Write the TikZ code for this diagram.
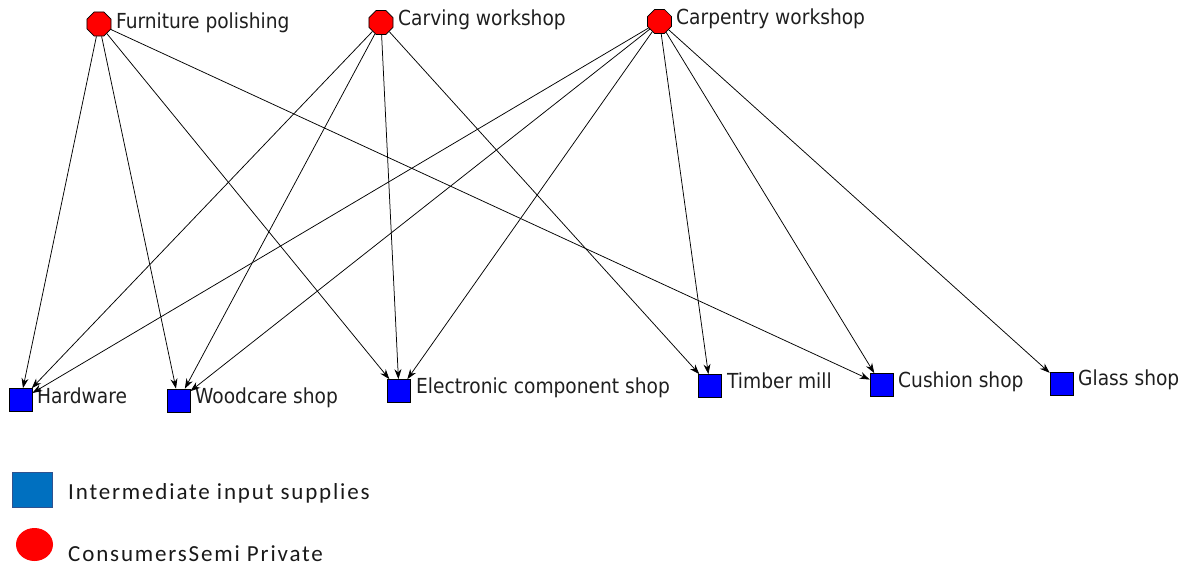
\documentclass[tikz,border=0pt]{standalone}
\usepackage{fontspec}
\setmainfont{DejaVu Sans Condensed}
\newfontfamily\legfont[LetterSpace=8]{Carlito}
\usetikzlibrary{shapes.geometric,arrows.meta}
\begin{document}
\begin{tikzpicture}[x=1pt,y=-1pt,
  cons/.style={regular polygon,regular polygon sides=8,minimum size=26pt,inner sep=0pt,fill=red,draw=black,line width=0.7pt},
  supp/.style={rectangle,minimum size=23pt,inner sep=0pt,fill=blue,draw=black,line width=0.7pt},
  lab/.style={font=\fontsize{20.7}{23}\selectfont,text=black!88,anchor=base west,inner sep=0pt},
  edge/.style={-{Stealth[length=10pt,width=7pt]},line width=0.75pt,black},
  legtext/.style={font=\legfont\fontsize{23}{26}\selectfont,anchor=base west,inner sep=0pt,text=black!90}]
\useasboundingbox (0,0) rectangle (1193,567);
% consumers
\node[cons] (fp) at (99,24) {};
\node[cons] (cw) at (381,22.5) {};
\node[cons] (cp) at (659.5,21.5) {};
\node[lab] (fpl) at (116,29) {Furniture polishing};
\node[lab] (cwl) at (398,26) {Carving workshop};
\node[lab] (cpl) at (676,25) {Carpentry workshop};
% suppliers
\node[supp] (hw) at (20.5,400) {};
\node[supp] (wc) at (178.5,400.5) {};
\node[supp] (ec) at (399,391) {};
\node[supp] (tm) at (710,386) {};
\node[supp] (cs) at (881.5,385) {};
\node[supp] (gs) at (1061.5,383.5) {};
\node[lab] (hwl) at (37,403) {Hardware};
\node[lab] (wcl) at (195,403) {Woodcare shop};
\node[lab] (ecl) at (416,393) {Electronic component shop};
\node[lab] (tml) at (727,388) {Timber mill};
\node[lab] (csl) at (898,387) {Cushion shop};
\node[lab] (gsl) at (1078,385) {Glass shop};
% edges
\foreach \s/\t in {fp/hw,fp/wc,fp/ec,fp/cs,cw/hw,cw/wc,cw/ec,cw/tm,cp/hw,cp/wc,cp/ec,cp/tm,cp/cs,cp/gs}
  \draw[edge] (\s) -- (\t);
% legend
\node[rectangle,minimum width=40pt,minimum height=35pt,inner sep=0pt,fill={rgb,255:red,0;green,112;blue,192},draw={rgb,255:red,47;green,82;blue,143},line width=1pt] (lsq) at (32,489.5) {};
\node[ellipse,minimum width=37pt,minimum height=33pt,inner sep=0pt,fill=red] (lel) at (34.5,544.5) {};
\node[legtext] (lt1) at (68,499) {Intermediate input supplies};
\node[legtext] (lt2) at (68,561) {ConsumersSemi Private};
\end{tikzpicture}
\end{document}
